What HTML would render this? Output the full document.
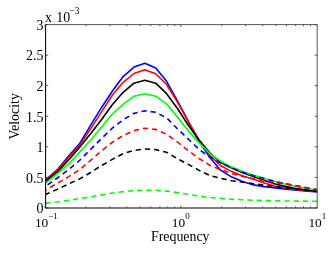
<!DOCTYPE html><html><head><meta charset="utf-8"><style>
html,body{margin:0;padding:0;background:#fff;}
body{width:332px;height:256px;position:relative;overflow:hidden;font-family:"Liberation Serif",serif;color:#000;}
</style></head><body>
<svg width="332" height="256" viewBox="0 0 332 256" style="position:absolute;left:0;top:0">
<clipPath id="c"><rect x="45.6" y="24.6" width="271.59999999999997" height="183.3"/></clipPath>
<g clip-path="url(#c)">
<polyline points="36.24,188.00 47.10,178.50 57.96,169.00 68.83,155.80 79.69,143.50 90.56,125.40 101.42,107.70 112.28,91.25 123.15,76.60 134.01,67.10 144.88,63.30 155.74,68.00 166.60,81.30 177.47,100.80 188.33,121.30 199.20,141.50 210.06,157.80 220.92,170.40 231.79,177.10 242.65,181.40 253.52,184.90 264.38,186.60 275.24,187.90 286.11,189.20 296.97,190.30 307.84,191.20 318.70,192.00" fill="none" stroke="#0000ff" stroke-width="1.6" stroke-linejoin="round"/>
<polyline points="36.24,188.30 47.10,179.10 57.96,169.90 68.83,157.20 79.69,145.10 90.56,128.90 101.42,112.10 112.28,95.30 123.15,82.30 134.01,73.50 144.88,69.70 155.74,73.70 166.60,84.50 177.47,102.00 188.33,121.60 199.20,140.30 210.06,155.50 220.92,165.80 231.79,171.60 242.65,175.90 253.52,179.30 264.38,183.00 275.24,186.20 286.11,188.20 296.97,189.60 307.84,190.70 318.70,191.60" fill="none" stroke="#ff0000" stroke-width="1.6" stroke-linejoin="round"/>
<polyline points="36.24,189.20 47.10,180.30 57.96,171.40 68.83,159.80 79.69,147.30 90.56,133.70 101.42,119.70 112.28,104.80 123.15,92.30 134.01,83.20 144.88,80.30 155.74,83.20 166.60,93.70 177.47,108.50 188.33,125.20 199.20,140.30 210.06,153.00 220.92,162.60 231.79,168.10 242.65,172.80 253.52,176.50 264.38,180.40 275.24,184.00 286.11,186.60 296.97,188.70 307.84,190.10 318.70,191.10" fill="none" stroke="#000000" stroke-width="1.6" stroke-linejoin="round"/>
<polyline points="36.24,190.40 47.10,181.80 57.96,173.20 68.83,163.90 79.69,152.00 90.56,140.30 101.42,127.30 112.28,114.00 123.15,104.30 134.01,96.20 144.88,93.70 155.74,96.20 166.60,103.80 177.47,116.90 188.33,130.90 199.20,142.90 210.06,153.60 220.92,161.40 231.79,167.10 242.65,171.60 253.52,175.20 264.38,178.50 275.24,181.60 286.11,184.30 296.97,186.80 307.84,188.80 318.70,190.40" fill="none" stroke="#00ff00" stroke-width="1.6" stroke-linejoin="round"/>
<polyline points="36.24,192.90 47.10,185.20 57.96,177.50 68.83,169.50 79.69,160.30 90.56,149.40 101.42,138.60 112.28,128.20 123.15,119.70 134.01,113.30 144.88,110.80 155.74,112.30 166.60,117.90 177.47,128.80 188.33,139.10 199.20,149.50 210.06,157.30 220.92,163.00 231.79,167.90 242.65,172.30 253.52,175.70 264.38,178.60 275.24,181.60 286.11,183.70 296.97,185.90 307.84,188.00 318.70,189.90" fill="none" stroke="#0000ff" stroke-width="1.6" stroke-linejoin="round" stroke-dasharray="5.3 3.95" stroke-dashoffset="-4.7"/>
<polyline points="36.24,195.50 47.10,189.20 57.96,182.90 68.83,176.60 79.69,169.60 90.56,160.30 101.42,151.00 112.28,142.30 123.15,135.50 134.01,130.60 144.88,128.20 155.74,129.40 166.60,134.30 177.47,142.00 188.33,150.70 199.20,158.60 210.06,165.40 220.92,169.70 231.79,173.60 242.65,176.40 253.52,178.70 264.38,180.90 275.24,182.50 286.11,184.30 296.97,186.00 307.84,188.00 318.70,189.90" fill="none" stroke="#ff0000" stroke-width="1.6" stroke-linejoin="round" stroke-dasharray="5.3 3.95" stroke-dashoffset="2.5"/>
<polyline points="36.24,198.60 47.10,193.80 57.96,189.00 68.83,183.80 79.69,178.90 90.56,172.50 101.42,165.60 112.28,159.40 123.15,153.60 134.01,150.40 144.88,149.00 155.74,149.60 166.60,152.30 177.47,158.70 188.33,164.40 199.20,170.40 210.06,175.50 220.92,178.40 231.79,180.70 242.65,182.20 253.52,183.70 264.38,185.20 275.24,186.50 286.11,187.80 296.97,189.00 307.84,190.40 318.70,191.70" fill="none" stroke="#000000" stroke-width="1.6" stroke-linejoin="round" stroke-dasharray="5.3 3.95" stroke-dashoffset="0"/>
<polyline points="36.24,204.40 47.10,203.10 57.96,201.80 68.83,200.20 79.69,198.60 90.56,196.80 101.42,194.90 112.28,193.00 123.15,191.60 134.01,190.60 144.88,190.20 155.74,190.30 166.60,191.10 177.47,192.60 188.33,194.30 199.20,196.10 210.06,197.40 220.92,198.40 231.79,199.20 242.65,199.80 253.52,200.30 264.38,200.60 275.24,200.80 286.11,201.00 296.97,201.10 307.84,201.20 318.70,201.30" fill="none" stroke="#00ff00" stroke-width="1.6" stroke-linejoin="round" stroke-dasharray="5.3 3.95" stroke-dashoffset="0"/>
</g>
<path d="M45.6,24.6 H317.2 V207.9" fill="none" stroke="#555" stroke-width="1"/>
<path d="M45.6,24.6 V207.9 H317.2" fill="none" stroke="#000" stroke-width="1.05"/>
<path d="M45.6,207.90 h2.6 M317.2,207.90 h-2.6 M45.6,177.35 h2.6 M317.2,177.35 h-2.6 M45.6,146.80 h2.6 M317.2,146.80 h-2.6 M45.6,116.25 h2.6 M317.2,116.25 h-2.6 M45.6,85.70 h2.6 M317.2,85.70 h-2.6 M45.6,55.15 h2.6 M317.2,55.15 h-2.6 M45.6,24.60 h2.6 M317.2,24.60 h-2.6 M45.05,207.9 v-2.5 M45.05,24.6 v2.5 M85.93,207.9 v-1.5 M85.93,24.6 v1.5 M109.84,207.9 v-1.5 M109.84,24.6 v1.5 M126.81,207.9 v-1.5 M126.81,24.6 v1.5 M139.97,207.9 v-1.5 M139.97,24.6 v1.5 M150.72,207.9 v-1.5 M150.72,24.6 v1.5 M159.81,207.9 v-1.5 M159.81,24.6 v1.5 M167.69,207.9 v-1.5 M167.69,24.6 v1.5 M174.64,207.9 v-1.5 M174.64,24.6 v1.5 M180.85,207.9 v-2.5 M180.85,24.6 v2.5 M221.73,207.9 v-1.5 M221.73,24.6 v1.5 M245.64,207.9 v-1.5 M245.64,24.6 v1.5 M262.61,207.9 v-1.5 M262.61,24.6 v1.5 M275.77,207.9 v-1.5 M275.77,24.6 v1.5 M286.52,207.9 v-1.5 M286.52,24.6 v1.5 M295.61,207.9 v-1.5 M295.61,24.6 v1.5 M303.49,207.9 v-1.5 M303.49,24.6 v1.5 M310.44,207.9 v-1.5 M310.44,24.6 v1.5" fill="none" stroke="#333" stroke-width="0.8"/>
<filter id="bl" x="-5%" y="-5%" width="110%" height="110%"><feGaussianBlur stdDeviation="0.35"/></filter>
<g filter="url(#bl)" font-family="Liberation Serif, serif" font-size="13.9" fill="#000"><text x="43.4" y="213.20" text-anchor="end" font-size="13.9">0</text>
<text x="43.4" y="182.65" text-anchor="end" font-size="13.9">0.5</text>
<text x="43.4" y="152.10" text-anchor="end" font-size="13.9">1</text>
<text x="43.4" y="121.55" text-anchor="end" font-size="13.9">1.5</text>
<text x="43.4" y="91.00" text-anchor="end" font-size="13.9">2</text>
<text x="43.4" y="60.45" text-anchor="end" font-size="13.9">2.5</text>
<text x="43.4" y="29.90" text-anchor="end" font-size="13.9">3</text>
<text x="34.90" y="227.2" font-size="13.4">10<tspan font-size="9.0" dy="-7.9" dx="0">−1</tspan></text>
<text x="171.80" y="227.2" font-size="13.4">10<tspan font-size="9.0" dy="-7.9" dx="0">0</tspan></text>
<text x="308.40" y="227.2" font-size="13.4">10<tspan font-size="9.0" dy="-7.9" dx="0">1</tspan></text>
<text x="44.9" y="22">x</text>
<text x="56.30" y="22" font-size="13.9">10<tspan font-size="9.4" dy="-8.2" dx="-0.7">−3</tspan></text>
<text x="180.25" y="241" text-anchor="middle">Frequency</text>
<text transform="translate(18.9,116.3) rotate(-90)" text-anchor="middle">Velocity</text></g>
</svg>
</body></html>
